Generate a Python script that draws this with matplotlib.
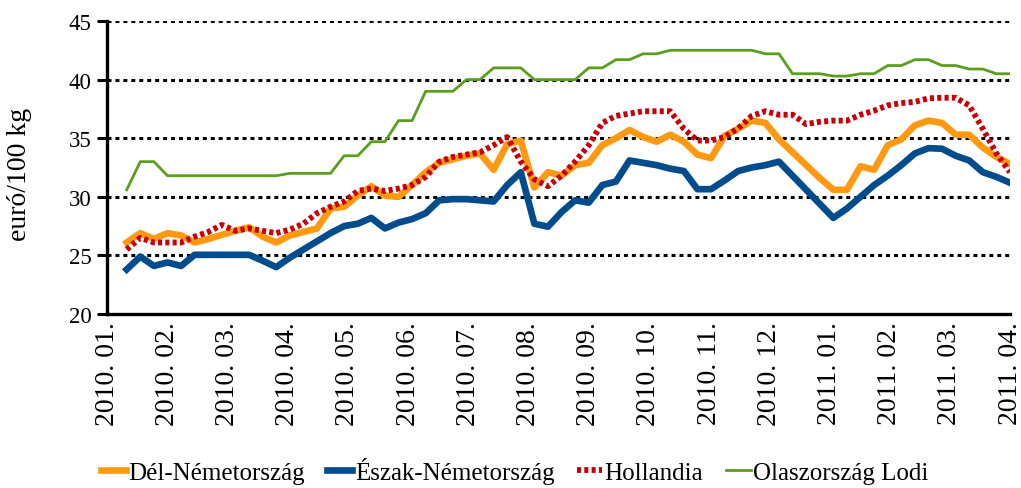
import matplotlib
matplotlib.use("Agg")
import matplotlib.pyplot as plt
import numpy as np

# ---- data (weekly observations, euró/100 kg) ----
del_nemet = [26.1, 26.9, 26.4, 26.9, 26.7, 26.1, 26.4, 26.75, 27.1, 27.4,
             26.6, 26.1, 26.7, 27.0, 27.3, 29.0, 29.15, 30.1, 30.9, 30.1,
             30.0, 31.0, 32.1, 32.9, 33.2, 33.5, 33.7, 32.3, 34.5, 34.8,
             30.8, 32.1, 31.8, 32.7, 32.9, 34.4, 35.0, 35.7, 35.1, 34.7,
             35.3, 34.7, 33.6, 33.3, 35.2, 35.8, 36.5, 36.3, 34.9, 33.8,
             32.7, 31.6, 30.6, 30.6, 32.6, 32.3, 34.4, 34.9, 36.1, 36.5,
             36.3, 35.3, 35.3, 34.2, 33.4, 32.8]
eszak_nemet = [23.8, 24.9, 24.1, 24.4, 24.1, 25.05, 25.05, 25.05, 25.05, 25.05,
               24.55, 24.0, 24.8, 25.5, 26.2, 26.9, 27.5, 27.7, 28.2, 27.3,
               27.8, 28.1, 28.6, 29.7, 29.8, 29.8, 29.7, 29.6, 31.0, 32.1,
               27.7, 27.45, 28.7, 29.7, 29.5, 31.0, 31.3, 33.1, 32.9, 32.7,
               32.4, 32.2, 30.65, 30.65, 31.4, 32.2, 32.5, 32.7, 33.0, 31.8,
               30.6, 29.4, 28.2, 29.0, 30.0, 31.0, 31.8, 32.7, 33.7, 34.15,
               34.1, 33.5, 33.1, 32.1, 31.7, 31.2]
hollandia = [25.5, 26.5, 26.1, 26.1, 26.1, 26.6, 27.0, 27.6, 27.1, 27.3,
             27.1, 26.9, 27.2, 27.7, 28.6, 29.15, 29.6, 30.5, 30.7, 30.5,
             30.7, 31.0, 31.7, 33.0, 33.4, 33.6, 33.8, 34.4, 35.1, 33.0,
             31.5, 30.9, 31.8, 33.0, 34.4, 36.3, 36.9, 37.1, 37.3, 37.3,
             37.3, 35.8, 34.8, 34.8, 35.1, 35.85, 36.9, 37.3, 37.0, 37.0,
             36.2, 36.4, 36.5, 36.5, 37.0, 37.35, 37.8, 38.0, 38.1, 38.4,
             38.45, 38.45, 37.8, 35.8, 33.7, 32.1]
olasz_lodi = [30.6, 33.0, 33.0, 31.8, 31.8, 31.8, 31.8, 31.8, 31.8, 31.8,
              31.8, 31.8, 32.0, 32.0, 32.0, 32.0, 33.5, 33.5, 34.7, 34.7,
              36.5, 36.5, 39.0, 39.0, 39.0, 40.0, 40.0, 41.0, 41.0, 41.0,
              40.0, 40.0, 40.0, 40.0, 41.0, 41.0, 41.7, 41.7, 42.2, 42.2,
              42.5, 42.5, 42.5, 42.5, 42.5, 42.5, 42.5, 42.2, 42.2, 40.5,
              40.5, 40.5, 40.3, 40.3, 40.5, 40.5, 41.2, 41.2, 41.7, 41.7,
              41.2, 41.2, 40.9, 40.9, 40.5, 40.5]
month_labels = ["2010. 01.", "2010. 02.", "2010. 03.", "2010. 04.", "2010. 05.",
                "2010. 06.", "2010. 07.", "2010. 08.", "2010. 09.", "2010. 10.",
                "2010. 11.", "2010. 12.", "2011. 01.", "2011. 02.", "2011. 03.",
                "2011. 04."]
series_names = ["Dél-Németország", "Észak-Németország", "Hollandia", "Olaszország Lodi"]
y_ticks = [20, 25, 30, 35, 40, 45]

plt.rcParams['font.family'] = ['Liberation Serif', 'DejaVu Serif']

fig = plt.figure(figsize=(10.21, 4.89), dpi=100)
ax = fig.add_axes([107/1021, 1-315/489, (1010-107)/1021, (315-22)/489])

weeks = np.arange(len(del_nemet))
x0, x1 = -1.45, len(del_nemet) - 1.0

ax.plot(weeks, del_nemet, color='#FF9912', lw=4.8, label=series_names[0], zorder=3)
ax.plot(weeks, eszak_nemet, color='#004C8C', lw=4.8, label=series_names[1], zorder=3)
ax.plot(weeks, hollandia, color='#C8000A', lw=4.2, linestyle=(0, (0.7, 0.55)),
        dash_capstyle='butt', label=series_names[2], zorder=4)
ax.plot(weeks, olasz_lodi, color='#5A9E1E', lw=2.0, label=series_names[3], zorder=4)

ax.set_xlim(x0, x1)
ax.set_ylim(20, 45)
ax.set_yticks(y_ticks)
for yv in y_ticks[1:]:
    ax.axhline(yv, color='black', lw=2.2, linestyle=(0, (1.3, 1.3)), zorder=1)

ax.set_xticks(np.linspace(x0, x1, len(month_labels)))
ax.set_xticklabels(month_labels, rotation=90, fontsize=20)
ax.tick_params(axis='x', length=0, pad=5)
ax.tick_params(axis='y', length=7, width=2.2, labelsize=16.5, pad=4, direction='out')

for s in ['top', 'right']:
    ax.spines[s].set_visible(False)
for s in ['left', 'bottom']:
    ax.spines[s].set_linewidth(2.4)
    ax.spines[s].set_color('black')

fig.text(19/1021, 1-174/489, "euró/100 kg", rotation=90, fontsize=20,
         ha='center', va='center')

fig.legend(loc='center', bbox_to_anchor=(0.504, 0.036), ncol=4, frameon=False,
           fontsize=18, handlelength=1.0, handletextpad=0.1, columnspacing=0.9)

fig.savefig("out.png", dpi=100)
